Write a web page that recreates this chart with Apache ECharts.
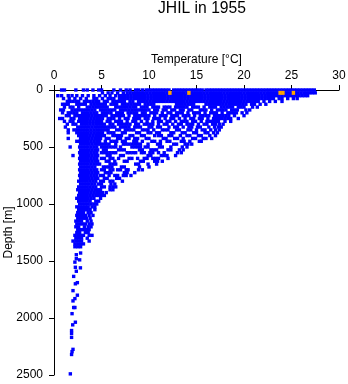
<!DOCTYPE html>
<html>
<head>
<meta charset="utf-8">
<script src="https://cdn.jsdelivr.net/npm/echarts@6/dist/echarts.min.js"></script>
<style>
html, body { margin: 0; padding: 0; background: #fff; }
#chart { width: 348px; height: 384px; }
</style>
</head>
<body>
<div id="chart"></div>
<script>
// temperatures, one list per depth level
var depths = [0, 25, 50, 75, 100, 125, 150, 175, 200, 225, 250, 275, 300, 325, 350, 375, 400, 425, 450, 475, 500, 525, 550, 575, 600, 625, 650, 675, 700, 725, 750, 775, 800, 825, 850, 875, 900, 925, 950, 975, 1000, 1025, 1050, 1075, 1100, 1125, 1150, 1175, 1200, 1225, 1250, 1275, 1300, 1325, 1350, 1375]
var temps = [
  [0.8,1.1,2.3,3.1,3.5,4.1,4.7,5.0,6.3,7.0,7.6,8.0,8.6,8.9,9.3,9.7,10.0,10.3,10.6,10.9,11.2,11.5,11.8,12.1,12.6,12.9,13.2,13.5,13.8,14.1,14.4,14.7,15.0,15.3,15.6,16.0,16.3,16.6,16.9,17.2,17.5,17.8,18.1,18.4,18.7,19.0,19.3,19.6,19.9,20.2,20.5,20.8,21.1,21.4,21.7,22.0,22.3,22.6,22.9,23.2,23.5,23.8,24.1,24.4,24.7,25.0,25.3,25.6,25.9,26.2,26.5,26.8,27.1,27.4],
  [5.1,5.7,6.1,6.7,7.3,7.7,8.0,8.3,8.6,8.9,9.2,9.5,9.8,10.1,10.4,10.7,11.0,11.3,11.6,11.9,12.2,12.5,12.8,13.1,13.4,13.7,14.0,14.3,14.6,14.9,15.2,15.5,15.8,16.1,16.4,16.7,17.0,17.3,17.6,17.9,18.2,18.5,18.8,19.1,19.4,19.7,20.0,20.3,20.6,20.9,21.2,21.5,21.8,22.1,22.4,22.7,23.0,23.3,23.6,23.9,24.2,24.5,24.8,25.1,25.4,25.7,26.0,26.3,26.6,26.9,27.2,27.5],
  [0.4,0.8,1.5,1.9,2.4,3.0,3.6,4.2,4.8,5.4,5.9,6.5,6.9,7.2,7.5,7.8,8.1,8.4,8.7,9.0,9.3,9.6,9.9,10.2,10.5,10.8,11.1,11.4,11.7,12.0,12.3,12.6,12.9,13.2,13.5,13.8,14.1,14.4,14.7,15.0,15.3,15.6,15.9,16.2,16.5,16.8,17.1,17.4,17.7,18.0,18.3,18.6,18.9,19.2,19.5,19.8,20.1,20.4,20.7,21.0,21.3,21.6,21.9,22.2,22.5,22.8,23.1,23.4,23.7,24.0,24.3,24.6,24.9,25.2,25.5,25.8,26.1,26.4,26.7],
  [1.0,1.6,2.2,2.8,3.4,4.2,4.5,5.1,5.7,6.0,6.3,6.9,7.2,7.5,7.8,8.1,8.4,8.7,9.0,9.3,9.6,9.9,10.2,10.5,10.8,11.1,11.4,11.7,12.0,12.3,12.6,12.9,13.2,13.5,13.8,14.1,14.4,14.7,15.0,15.3,15.6,15.9,16.2,16.5,16.8,17.1,17.4,17.7,18.0,18.3,18.6,18.9,19.2,19.5,19.8,20.1,20.4,20.7,21.0,21.3,21.6,21.9,22.2,22.5,22.8,23.1,23.7,24.0,24.6,25.2,25.6],
  [1.4,1.7,2.0,2.3,2.6,3.2,3.5,3.8,4.1,4.4,4.7,5.3,5.6,6.2,6.5,6.8,7.1,7.4,8.0,8.3,8.9,9.2,9.5,9.8,10.1,10.4,10.7,11.0,11.3,11.6,11.9,12.2,12.5,12.8,13.1,13.4,13.7,14.0,14.3,14.6,14.9,15.2,15.5,15.8,16.1,16.4,16.7,17.0,17.3,17.6,17.9,18.2,18.5,18.8,19.1,19.4,19.7,20.0,20.3,20.6,20.9,21.2,21.5,22.1,22.7,23.3,24.0],
  [0.9,1.2,1.5,2.4,2.7,3.0,3.3,3.9,4.2,4.5,4.8,5.1,5.4,6.0,6.3,6.6,7.2,7.5,7.8,8.1,8.4,8.7,9.0,9.6,9.9,10.2,10.5,12.9,13.2,13.5,13.8,14.1,14.4,14.7,16.0,16.3,16.6,16.9,17.2,17.5,17.8,18.1,18.4,18.7,19.0,19.3,19.6,19.9,20.2,20.8,21.1,21.7,22.3],
  [1.1,1.7,2.0,2.6,3.5,3.8,4.1,4.4,4.7,5.0,5.3,5.6,6.5,6.8,7.1,7.4,7.7,8.0,8.3,8.6,9.2,9.5,9.8,10.4,10.7,11.0,11.6,11.9,12.2,12.8,13.1,13.4,13.7,14.0,14.6,14.9,15.2,15.8,16.4,16.7,17.0,17.6,17.9,18.2,18.5,18.8,19.4,19.7,20.0,20.9,21.4],
  [0.7,1.0,1.9,2.2,2.5,2.8,3.1,3.4,3.7,4.0,4.3,4.9,5.2,5.5,5.8,6.1,6.4,7.0,7.3,7.6,7.9,8.2,8.5,8.8,9.1,9.4,9.7,10.0,10.6,10.9,11.5,11.8,12.4,12.7,13.3,13.6,14.2,14.5,15.4,15.7,16.0,16.6,17.2,17.5,17.8,18.1,18.7,19.0,19.3,20.2,20.6],
  [0.9,1.5,1.8,2.1,2.4,3.0,3.3,3.6,3.9,4.2,4.5,5.1,5.4,5.7,6.0,6.6,6.9,7.2,7.8,8.1,8.4,8.7,9.3,9.6,10.2,10.5,10.8,11.4,12.0,12.3,12.9,13.2,13.5,14.1,14.7,15.0,15.3,15.9,16.5,16.8,17.1,17.7,18.3,18.6,18.9,19.2,19.8,20.3],
  [1.3,1.6,2.2,2.5,2.8,3.1,3.4,3.7,4.0,4.3,4.6,4.9,5.2,5.5,6.1,6.4,6.7,7.0,7.3,7.9,8.5,8.8,9.1,9.4,9.7,10.0,10.6,11.2,11.5,11.8,12.4,12.7,13.0,13.6,13.9,14.2,14.8,15.4,15.7,16.0,16.3,16.9,17.2,17.5,17.8,18.1,18.4,19.0,20.0],
  [0.6,0.9,1.8,2.1,2.7,3.0,3.3,3.6,3.9,4.2,4.5,4.8,5.1,5.7,6.0,6.3,6.9,7.5,7.8,8.4,8.7,9.0,9.6,9.9,10.5,10.8,11.1,11.7,12.3,12.6,13.2,13.8,14.4,14.7,15.3,15.6,16.2,16.8,17.1,17.4,17.7,18.0,18.3,18.6,19.4],
  [1.1,1.7,2.0,2.6,2.9,3.2,3.5,3.8,4.1,4.4,4.7,5.0,5.6,5.9,6.5,6.8,7.1,7.7,8.3,8.6,9.2,9.8,10.4,11.0,11.3,11.9,12.2,12.8,13.4,13.7,14.0,14.6,14.9,15.5,16.1,16.4,16.7,17.0,17.3,18.0,18.6],
  [1.4,2.0,2.3,2.9,3.2,3.5,3.8,4.1,4.4,4.7,5.0,5.3,5.9,6.2,6.8,7.1,7.4,7.7,8.0,8.6,8.9,9.5,9.8,10.1,10.4,11.0,11.6,11.9,12.5,13.1,13.4,14.0,14.3,14.6,15.2,15.8,16.1,16.7,17.0,17.4,17.8],
  [1.2,2.5,2.8,3.1,3.4,3.7,4.0,4.3,4.6,4.9,5.2,5.5,5.8,6.1,6.4,7.0,7.3,7.6,7.9,8.5,8.8,9.1,10.0,10.3,10.9,11.2,12.1,12.7,13.0,13.6,14.2,14.5,15.1,15.4,16.3,16.9,17.3,17.6],
  [1.5,2.1,2.4,2.7,3.0,3.3,3.6,3.9,4.2,4.5,4.8,5.1,5.4,5.7,6.6,6.9,7.5,7.8,8.1,8.4,9.3,9.6,9.9,10.5,11.4,11.7,12.0,12.9,13.2,14.1,14.4,15.0,15.6,15.9,16.5,17.0,17.4],
  [1.5,2.4,2.7,3.0,3.3,3.6,3.9,4.2,4.5,4.8,5.1,5.7,6.0,6.3,7.2,7.5,8.7,9.0,9.9,10.2,10.8,11.1,12.3,12.6,13.5,13.8,14.7,15.0,15.9,16.2,16.8,17.2],
  [2.6,2.9,3.2,3.5,3.8,4.1,4.4,4.7,5.0,5.3,6.2,6.5,6.8,7.1,8.0,8.3,9.2,9.5,10.6,11.0,11.3,12.1,12.4,13.3,14.0,14.3,15.2,15.5,16.4,17.0],
  [1.5,2.8,3.1,3.4,3.7,4.0,4.3,4.6,4.9,5.5,5.8,6.7,7.0,7.6,7.9,8.5,8.8,9.7,10.0,11.5,11.8,12.7,13.0,13.6,14.6,14.9,15.7,16.0,16.6],
  [2.4,2.7,3.0,3.3,3.6,3.9,4.2,4.5,4.8,5.4,6.0,6.3,6.6,7.2,7.5,8.4,8.7,9.3,10.3,10.6,11.2,11.9,12.2,13.4,13.7,14.3,15.3,15.5],
  [2.8,3.1,3.4,3.7,4.0,4.3,4.6,4.9,5.2,5.5,5.8,6.5,7.3,7.6,7.9,8.2,8.5,8.8,9.1,9.9,10.9,11.2,12.6,12.9,13.8,14.1,14.5],
  [1.7,2.7,3.0,3.3,3.6,3.9,4.2,4.5,5.0,5.3,5.6,5.9,6.2,6.5,7.0,8.2,8.5,8.8,9.1,9.6,9.9,11.1,11.4,12.3,13.5,14.0],
  [2.8,3.1,3.4,3.7,4.0,4.3,4.6,5.2,5.5,6.8,7.1,7.4,9.0,9.3,10.2,10.5,10.8,12.0,12.3,13.2,13.6],
  [2.7,3.0,3.3,3.6,3.9,4.2,4.5,5.0,5.3,5.6,5.9,6.2,6.5,7.7,8.0,8.3,8.6,9.2,9.5,10.1,10.4,11.0,11.6,13.0,13.4],
  [2.0,2.8,3.1,3.4,3.7,4.0,4.3,4.6,5.6,5.9,7.0,7.3,9.9,10.2,11.3,11.6,11.9,12.8],
  [2.7,3.0,3.3,3.6,3.9,4.2,4.5,5.0,5.3,5.9,6.2,6.8,7.9,8.2,8.8,9.5,9.8,10.4,10.7,11.0,12.0],
  [2.8,3.1,3.4,3.7,4.0,4.3,4.6,5.5,5.8,6.4,7.4,7.7,9.1,9.4,10.6,10.9,11.4],
  [2.7,3.0,3.3,3.6,3.9,4.2,4.5,4.8,5.9,6.2,6.5,8.6,8.9,9.9,10.8],
  [2.8,3.1,3.4,3.7,4.0,4.3,5.2,5.5,5.8,6.1,7.1,7.4,9.0,10.0],
  [2.7,3.0,3.3,3.6,3.9,4.2,4.5,5.0,5.3,5.9,6.2,6.7,7.0,7.6,7.8,8.9,9.3],
  [2.8,3.1,3.4,3.7,4.0,4.3,4.6,5.4,5.7,6.0,7.4,7.7,8.5],
  [2.7,3.0,3.3,3.6,3.9,4.2,4.5,4.9,5.2,5.8,6.4,6.7,7.3,7.6,8.1],
  [2.8,3.1,3.4,3.7,4.0,4.3,4.6,5.3,5.6,6.6,6.9],
  [2.6,2.9,3.2,3.5,3.8,4.1,4.4,4.9,5.2,5.9,6.2,7.2],
  [2.8,3.1,3.4,3.7,4.0,4.3,4.7,5.0,6.0,6.4],
  [2.6,2.9,3.2,3.5,3.8,4.1,4.4,5.0,5.3,5.9,6.2,6.5],
  [2.5,2.8,3.1,3.4,3.7,4.0,4.3,4.6,4.9,5.9,6.2],
  [2.7,3.0,3.3,3.6,3.9,4.2,4.5,4.8,5.1,5.5],
  [2.6,2.9,3.2,3.5,3.8,4.1,4.4,4.7,5.0,5.3],
  [2.4,2.7,3.0,3.3,3.6,3.9,4.2,4.9],
  [2.6,2.9,3.2,3.5,3.8,4.4,4.7],
  [2.7,3.0,3.3,3.6,3.9,4.2,4.5],
  [2.4,2.7,3.0,3.3,3.6,4.0,4.3],
  [2.6,2.9,3.2,3.5,3.8,4.3],
  [2.5,2.8,3.1,3.6,3.9],
  [2.4,2.7,3.0,3.3,3.7,4.1],
  [2.5,2.8,3.1,3.4,3.8],
  [2.3,2.6,2.9,3.5,3.9],
  [2.4,2.7,3.0,3.3,3.7,4.0],
  [2.3,2.6,3.2,3.6,3.9],
  [2.5,2.8,3.1,3.4,3.7],
  [2.4,2.7,3.3,3.6],
  [2.2,2.5,2.8,3.1,3.7,4.0],
  [2.3,2.6,2.9,3.5],
  [2.0,2.3,2.6,2.9,3.7],
  [2.2,2.5,2.8,3.1],
  [2.2,2.5,2.8]
]
// the thin tail under the main body
var deepTemps = [2.8, 2.35, 2.35, 2.7, 2.2, 2.25, 2.78, 2.35, 2.07, 2.46, 2.25, 2.0, 2.46, 2.2, 2.0, 2.07, 2.2, 1.9, 2.25, 1.97, 1.85, 1.85, 1.85, 2.0, 1.9, 1.85, 1.72]
var deepDepths = [1430, 1445, 1480, 1490, 1510, 1555, 1560, 1590, 1635, 1690, 1700, 1760, 1800, 1830, 1850, 1908, 1908, 1962, 2037, 2060, 2110, 2135, 2170, 2275, 2295, 2320, 2490]
// the few orange casts
var hotTemps = [12.2, 14.2, 23.8, 24.1, 25.2]
var hotDepths = [25, 25, 25, 25, 25]

var blue = []
temps.forEach(function (row, i) {
  row.forEach(function (t) {
    blue.push([t, depths[i]])
  })
})
deepTemps.forEach(function (t, i) {
  blue.push([t, deepDepths[i]])
})
var orange = hotTemps.map(function (t, i) {
  return [t, hotDepths[i]]
})

var font = 'Liberation Sans'
var chart = echarts.init(document.getElementById('chart'))
chart.setOption({
  animation: false,
  backgroundColor: '#fff',
  title: {
    text: 'JHIL in 1955',
    left: 197,
    top: -4,
    textAlign: 'center',
    textStyle: { fontFamily: font, fontSize: 15.7, fontWeight: 'normal', color: '#000' }
  },
  grid: { left: 54, right: 9, top: 90, bottom: 9, outerBoundsMode: 'none' },
  xAxis: {
    type: 'value',
    position: 'top',
    min: 0,
    max: 30,
    interval: 5,
    name: 'Temperature [°C]',
    nameLocation: 'middle',
    nameGap: 24,
    nameMoveOverlap: false,
    nameTextStyle: { fontFamily: font, fontSize: 12, color: '#000' },
    axisLine: { lineStyle: { color: '#000', width: 1 } },
    axisTick: { length: 5, lineStyle: { color: '#000' } },
    axisLabel: { fontFamily: font, fontSize: 12, color: '#000', margin: 8, showMinLabel: true, showMaxLabel: true },
    splitLine: { show: false }
  },
  yAxis: {
    type: 'value',
    inverse: true,
    min: 0,
    max: 2500,
    interval: 500,
    name: 'Depth [m]',
    nameLocation: 'middle',
    nameGap: 39,
    nameMoveOverlap: false,
    nameTextStyle: { fontFamily: font, fontSize: 12, color: '#000' },
    axisLine: { show: true, lineStyle: { color: '#000', width: 1 } },
    axisTick: { show: true, length: 5, lineStyle: { color: '#000' } },
    axisLabel: {
      fontFamily: font,
      fontSize: 12,
      color: '#000',
      margin: 11,
      padding: [5, 0, 0, 0],
      showMinLabel: true,
      showMaxLabel: true,
      formatter: function (v) { return String(v) }
    },
    splitLine: { show: false }
  },
  series: [{
    type: 'scatter',
    data: blue,
    symbol: 'rect',
    symbolSize: 3.4,
    clip: false,
    silent: true,
    itemStyle: { color: '#0000ff', opacity: 1 }
  }, {
    type: 'scatter',
    data: orange,
    symbol: 'rect',
    symbolSize: [3.4, 4],
    clip: false,
    silent: true,
    z: 5,
    itemStyle: { color: '#ffa500', opacity: 1 }
  }]
})
</script>
</body>
</html>
